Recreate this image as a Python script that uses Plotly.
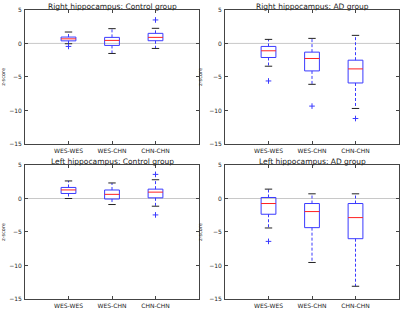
import plotly.graph_objects as go

categories = ["WES-WES", "WES-CHN", "CHN-CHN"]
titles = ["Right hippocampus: Control group", "Right hippocampus: AD group",
          "Left hippocampus: Control group", "Left hippocampus: AD group"]

# per panel: lists per category
low_cap = [[-0.05, -1.5, -0.75], [-3.4, -6.1, -9.7], [0.0, -0.9, -1.15], [-4.4, -9.55, -13.1]]
q1 = [[0.38, -0.3, 0.4], [-2.1, -4.1, -5.9], [0.75, -0.08, 0.1], [-2.35, -4.35, -6.0]]
median = [[0.68, 0.45, 0.9], [-1.1, -2.25, -3.8], [1.28, 0.62, 0.95], [-0.75, -1.95, -2.85]]
q3 = [[0.95, 0.9, 1.5], [-0.45, -1.3, -2.5], [1.65, 1.27, 1.4], [0.15, -0.75, -0.75]]
high_cap = [[1.7, 2.2, 2.25], [0.6, 0.75, 1.2], [2.62, 2.32, 2.8], [1.4, 0.7, 0.7]]
fliers = [[[-0.45], [], [3.5]], [[-5.6], [-9.35], [-11.2]], [[], [], [3.6, -2.45]], [[-6.4], [], []]]

yticks = [5, 0, -5, -10, -15]
yticktext = ["5", "0", "\u22125", "\u221210", "\u221215"]

BLUE = "#3a3aff"
RED = "#ff2020"
TXT = "#222222"

fig = go.Figure()

xdom = [(0.0625, 0.4975), (0.5625, 0.9975)]
ydom = [(0.534, 0.968), (0.0324, 0.466)]

hw = 0.17
cw = 0.085

for p in range(4):
    r, c = divmod(p, 2)
    idx = "" if p == 0 else str(p + 1)
    xa = "x" + idx
    ya = "y" + idx
    # zero line
    fig.add_trace(go.Scatter(x=[0, 4], y=[0, 0], mode="lines", line=dict(color="#c8c8c8", width=1),
                             xaxis=xa, yaxis=ya, showlegend=False, hoverinfo="skip"))
    for i, cat in enumerate(categories):
        xc = i + 1
        # whiskers
        fig.add_trace(go.Scatter(x=[xc, xc, None, xc, xc], y=[q3[p][i], high_cap[p][i], None, q1[p][i], low_cap[p][i]],
                                 mode="lines", line=dict(color=BLUE, width=1, dash="3px,2px"),
                                 xaxis=xa, yaxis=ya, showlegend=False, hoverinfo="skip"))
        # caps
        fig.add_trace(go.Scatter(x=[xc - cw, xc + cw, None, xc - cw, xc + cw],
                                 y=[high_cap[p][i], high_cap[p][i], None, low_cap[p][i], low_cap[p][i]],
                                 mode="lines", line=dict(color="#222222", width=1),
                                 xaxis=xa, yaxis=ya, showlegend=False, hoverinfo="skip"))
        # box
        fig.add_trace(go.Scatter(x=[xc - hw, xc + hw, xc + hw, xc - hw, xc - hw],
                                 y=[q1[p][i], q1[p][i], q3[p][i], q3[p][i], q1[p][i]],
                                 mode="lines", line=dict(color=BLUE, width=1),
                                 xaxis=xa, yaxis=ya, showlegend=False, hoverinfo="skip"))
        # median
        fig.add_trace(go.Scatter(x=[xc - hw, xc + hw], y=[median[p][i], median[p][i]],
                                 mode="lines", line=dict(color=RED, width=1),
                                 xaxis=xa, yaxis=ya, showlegend=False, hoverinfo="skip"))
        # fliers
        if fliers[p][i]:
            fig.add_trace(go.Scatter(x=[xc] * len(fliers[p][i]), y=fliers[p][i], mode="markers",
                                     marker=dict(symbol="cross-thin", size=4, line=dict(color=BLUE, width=1)),
                                     xaxis=xa, yaxis=ya, showlegend=False, hoverinfo="skip"))
    axis_common = dict(showgrid=False, zeroline=False, showline=True, linecolor="#444444", linewidth=1,
                       mirror="ticks", ticks="inside", ticklen=3, tickcolor="#444444", automargin=False,
                       tickfont=dict(family="DejaVu Sans", size=6, color=TXT))
    fig.layout["xaxis" + idx] = dict(domain=list(xdom[c]), range=[0, 4], anchor=ya,
                                     tickvals=[1, 2, 3], ticktext=categories, ticklabelstandoff=1,
                                     **axis_common)
    fig.layout["yaxis" + idx] = dict(domain=list(ydom[r]), range=[-15, 5], anchor=xa,
                                     tickvals=yticks, ticktext=yticktext, ticklabelstandoff=1,
                                     title=dict(text="z-score", font=dict(family="DejaVu Sans", size=5, color=TXT), standoff=6),
                                     **axis_common)
    fig.add_annotation(text=titles[p], xref="paper", yref="paper",
                       x=(xdom[c][0] + xdom[c][1]) / 2, y=ydom[r][1], yanchor="bottom", xanchor="center",
                       showarrow=False, yshift=-3,
                       font=dict(family="DejaVu Sans", size=7.5, color=TXT))

fig.update_layout(width=400, height=309, margin=dict(l=0, r=0, t=0, b=0),
                  paper_bgcolor="white", plot_bgcolor="white")

fig.write_html("out.html", config={"displayModeBar": False},
               post_script="document.body.style.margin='0';document.body.style.overflow='hidden';")
